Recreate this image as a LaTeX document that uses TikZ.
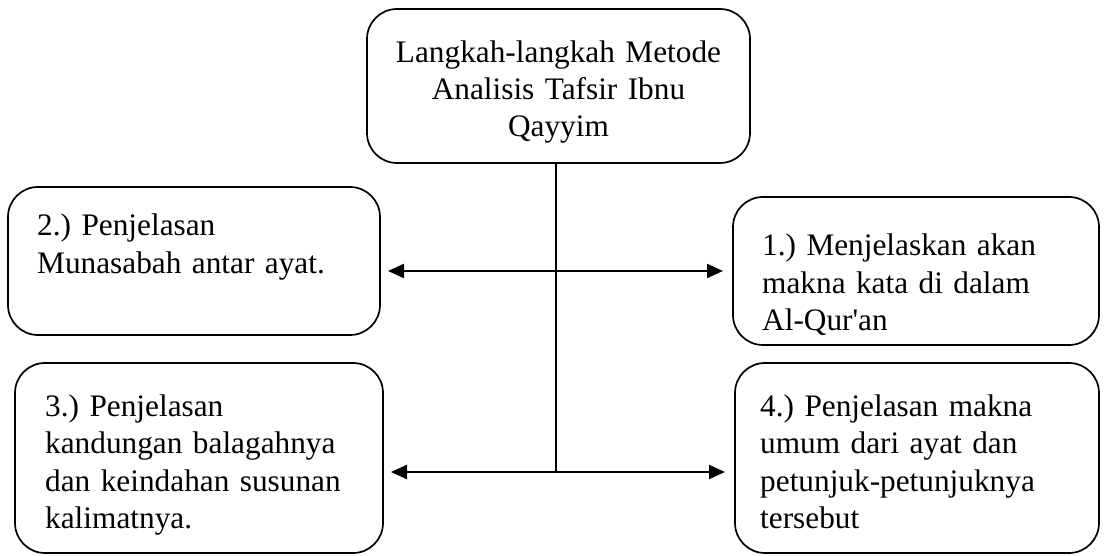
\documentclass[tikz,border=0pt]{standalone}
\usepackage{fontspec}
\setmainfont{Liberation Serif}
\usetikzlibrary{arrows.meta,calc}
\frenchspacing
\begin{document}
\begin{tikzpicture}[x=1pt,y=-1pt,
  box/.style={draw,line width=1.7pt,rounded corners=30pt,inner sep=0pt},
  txt/.style={inner sep=0pt,font=\fontsize{31.3}{37.5}\selectfont\frenchspacing,text width=350pt,align=left,anchor=base west},
  ctxt/.style={inner sep=0pt,font=\fontsize{31.3}{37}\selectfont\frenchspacing,text width=383pt,align=center,anchor=base},
  conn/.style={line width=1.4pt},
  arr/.style={line width=2.2pt,{Triangle[length=16pt,width=14pt]}-{Triangle[length=16pt,width=14pt]}}]
\useasboundingbox (0,0) rectangle (1104,556);
% boxes
\node[box,minimum width=383pt,minimum height=154pt] (top) at (558.5,86) {};
\node[box,minimum width=372pt,minimum height=148pt] (b2) at (194,261) {};
\node[box,minimum width=366pt,minimum height=148pt] (b1) at (916,271) {};
\node[box,minimum width=368pt,minimum height=190pt] (b3) at (199,458) {};
\node[box,minimum width=364pt,minimum height=190pt] (b4) at (917,458) {};
% texts
\node[ctxt] (ttop) at (558.5,63) {Langkah-langkah Metode\\Analisis Tafsir Ibnu\\Qayyim};
\node[txt] (t2) at (37,236) {2.) Penjelasan\\Munasabah antar ayat.};
\node[txt] (t1) at (762,256) {1.) Menjelaskan akan\\makna kata di dalam\\Al-Qur\textquotesingle an};
\node[txt] (t3) at (45,416) {3.) Penjelasan\\kandungan balagahnya\\dan keindahan susunan\\kalimatnya.};
\node[txt] (t4) at (760,416) {4.) Penjelasan makna\\umum dari ayat dan\\petunjuk-petunjuknya\\tersebut};
% connectors
\coordinate (j1) at (556,271);
\coordinate (j2) at (556,472);
\coordinate (a1l) at (388,271);
\coordinate (a1r) at (723,271);
\coordinate (a2l) at (391,472);
\coordinate (a2r) at (725,472);
\draw[conn] (j2 |- top.south) -- (j2);
\draw[arr] (a1l) -- (a1r);
\draw[arr] (a2l) -- (a2r);
\end{tikzpicture}
\end{document}
